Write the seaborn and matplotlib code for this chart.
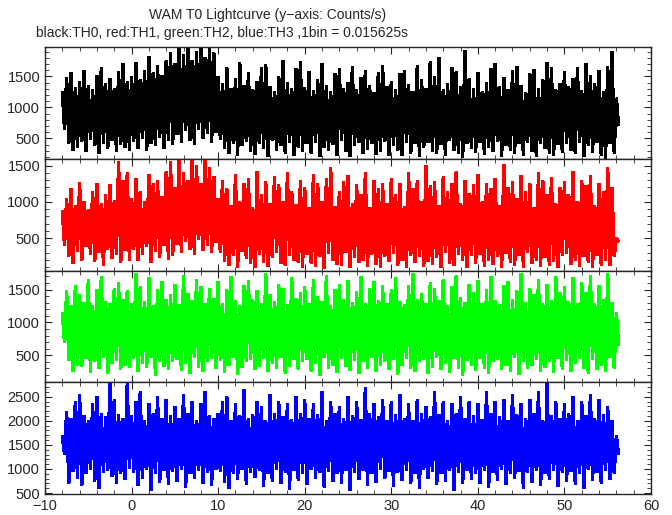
import numpy as np
import pandas as pd
import matplotlib
matplotlib.use("Agg")
import matplotlib.pyplot as plt
from matplotlib.ticker import MultipleLocator
import seaborn as sns

# time grid (s), 0.5 s steps from -8 to 56; per step one high and one low reading
TIME = [-8 + 0.5 * i for i in range(129)]

TH0_HI = [1250, 1480, 1560, 1320, 1410, 1600, 1350, 1280, 1520, 1640, 1380, 1460, 1300, 1580, 1700, 1420,
          1500, 1720, 1450, 1600, 1820, 1560, 1680, 1520, 1760, 1880,
          1700, 1960, 1850, 1975, 1760, 1900, 1975, 1800, 1975, 1880,
          1500, 1380, 1650, 1300, 1460, 1720, 1350, 1560, 1290, 1420, 1640, 1690, 1330, 1250, 1500, 1760, 1400, 1300, 1620, 1740,
          1320, 1580, 1270, 1450, 1700, 1360, 1250, 1540, 1620, 1310, 1400, 1660, 1280, 1480, 1600, 1350, 1240, 1570, 1680, 1330,
          1420, 1290, 1540, 1600, 1370, 1260, 1680, 1450, 1310, 1740, 1500, 1800, 1280, 1390, 1640, 1580, 1330, 1920, 1460, 1300,
          1560, 1250, 1400, 1620, 1700, 1340, 1480, 1280, 1590, 1660, 1360, 1240, 1540, 1610, 1300, 1450, 1720, 1640, 1290, 1380,
          1580, 1330, 1460, 1640, 1270, 1700, 1520, 1380, 1600, 1260, 1660, 1900, 1150]
TH0_LO = [650, 420, 300, 360, 450, 280, 480, 380, 260, 420, 330, 470, 290, 400, 350, 310,
          450, 340, 500, 300, 420, 380, 520, 330, 470, 400,
          560, 440, 620, 470, 400, 650, 500, 580, 430, 600,
          480, 340, 260, 420, 220, 390, 450, 280, 240, 410, 330, 200, 460, 300, 380, 250, 440, 220, 350, 290,
          410, 260, 440, 210, 350, 300, 400, 230, 460, 280, 200, 380, 430, 250, 320, 410, 240, 290, 450, 220,
          380, 300, 230, 440, 260, 410, 200, 350, 430, 280, 250, 400, 220, 460, 310, 260, 190, 420, 340, 270,
          430, 240, 360, 280, 450, 210, 390, 300, 250, 420, 230, 440, 290, 200, 410, 330, 250, 220, 400, 270,
          420, 300, 250, 440, 200, 380, 270, 430, 230, 180, 410, 260, 700]

TH1_HI = [880, 1050, 1180, 950, 1270, 1000, 900, 1150, 1260, 980, 1100, 1240, 1020, 1560, 1300, 1400,
          1050, 1320, 1150, 1000, 1380, 1250, 1300, 1080, 1420, 1560,
          1200, 1595, 1400, 1300, 1595, 1500, 1250, 1595, 1480, 1350,
          1050, 1300, 1180, 950, 1380, 1000, 1250, 1320, 920, 1420, 1100, 1280, 980, 1350, 1240, 1000, 1400, 1150, 960, 1300,
          1200, 920, 1380, 1260, 1000, 1320, 1480, 940, 1150, 1280, 1360, 980, 1240, 1100, 1400, 920, 1300, 1180, 1250, 980,
          1320, 1100, 1260, 940, 1400, 1180, 1300, 1000, 1500, 1220, 1280, 950, 1350, 1150, 1260, 1420, 980, 1300, 1120, 1240,
          1380, 1000, 1260, 1180, 1320, 950, 1520, 1200, 1280, 1050, 1360, 1150, 1250, 920, 1400, 1300, 1100, 1340, 980, 1200,
          1280, 1100, 1420, 1000, 1300, 1220, 1360, 950, 1250, 1150, 1480, 1200, 500]
TH1_LO = [400, 250, 150, 320, 200, 380, 280, 180, 300, 130, 350, 220, 280, 160, 330, 190,
          340, 200, 280, 380, 170, 320, 240, 400, 210, 260,
          420, 300, 460, 350, 280, 480, 330, 400, 300, 440,
          300, 180, 120, 260, 100, 320, 220, 150, 90, 280, 170, 110, 240, 300, 150, 120, 260, 200, 160, 100,
          270, 150, 110, 250, 80, 290, 200, 140, 120, 310, 100, 240, 160, 200, 110, 280, 140, 90, 250, 180,
          290, 130, 200, 100, 260, 160, 250, 110, 180, 140, 240, 95, 300, 150, 120, 270, 200, 100, 260, 150,
          280, 110, 200, 140, 250, 90, 290, 160, 120, 260, 100, 300, 150, 200, 110, 240, 130, 180, 100, 260,
          290, 140, 200, 110, 250, 160, 100, 260, 130, 200, 120, 250, 450]

TH2_HI = [1150, 1480, 1250, 1560, 1420, 1300, 1650, 1260, 1500, 1700, 1320, 1280, 1520, 1600, 1350, 1480,
          1280, 1750, 1540, 1320, 1680, 1260, 1500, 1620, 1350, 1420,
          1580, 1270, 1720, 1440, 1340, 1650, 1540, 1290, 1520, 1360,
          1620, 1280, 1500, 1700, 1330, 1260, 1560, 1640, 1350, 1480, 1290, 1750, 1420, 1320, 1580, 1520, 1270, 1680, 1360, 1460,
          1540, 1280, 1660, 1400, 1320, 1720, 1260, 1500, 1580, 1350, 1640, 1300, 1470, 1700, 1290, 1520, 1620, 1330, 1560, 1280,
          1500, 1680, 1320, 1270, 1560, 1740, 1350, 1440, 1290, 1600, 1520, 1330, 1660, 1260, 1540, 1720, 1380, 1300, 1580, 1450,
          1640, 1290, 1500, 1700, 1330, 1270, 1560, 1620, 1350, 1480, 1750, 1300, 1520, 1420, 1660, 1280, 1580, 1340, 1700, 1460,
          1540, 1320, 1680, 1290, 1600, 1450, 1720, 1280, 1560, 1350, 1750, 1300, 1150]
TH2_LO = [700, 420, 260, 350, 330, 450, 240, 400, 300, 460, 220, 380, 420, 280, 350, 320,
          450, 250, 380, 310, 460, 200, 410, 330, 290, 400,
          440, 270, 380, 230, 460, 320, 260, 400, 450, 300,
          420, 240, 350, 460, 210, 310, 400, 440, 290, 330, 450, 250, 380, 300, 460, 220, 330, 430, 280, 400,
          440, 260, 380, 200, 460, 300, 340, 240, 450, 330, 270, 420, 220, 400, 300, 460, 250, 350, 410, 290,
          430, 210, 350, 450, 300, 260, 400, 440, 230, 320, 460, 280, 380, 240, 450, 300, 200, 420, 340, 270,
          450, 300, 230, 410, 440, 280, 350, 250, 460, 210, 400, 300, 340, 440, 260, 320, 410, 240, 450, 280,
          420, 260, 380, 450, 300, 220, 440, 280, 350, 250, 460, 300, 650]

TH3_HI = [1700, 2200, 2050, 2400, 2550, 2100, 2000, 2350, 2500, 2150, 2080, 2800, 2450, 2120, 2050, 2800,
          2100, 2400, 2600, 2000, 2350, 2150, 2500, 2050, 2450, 2100,
          2300, 2050, 2550, 2150, 2400, 2000, 2350, 2600, 2100, 2050,
          2150, 2400, 2500, 2000, 2350, 2100, 2650, 2050, 2120, 2400, 2300, 2000, 2550, 2150, 2400, 2080, 2350, 2020, 2500, 2150,
          2450, 2050, 2350, 2120, 2600, 2000, 2400, 2150, 2300, 2050, 2500, 2100, 2400, 2020, 2700, 2150, 2350, 2080, 2450, 2000,
          2400, 2120, 2550, 2050, 2350, 2000, 2450, 2150, 2300, 2080, 2600, 2120, 2400, 2000, 2350, 2150, 2500, 2050, 2400, 2100,
          2350, 2020, 2600, 2150, 2400, 2080, 2450, 2000, 2550, 2120, 2350, 2050, 2450, 2150, 2600, 2000, 2800, 2100, 2400, 2050,
          2350, 2150, 2500, 2000, 2400, 2100, 2550, 2050, 2450, 2120, 2300, 2000, 1700]
TH3_LO = [1300, 700, 950, 800, 650, 900, 980, 750, 600, 920, 960, 850, 700, 900, 780, 1000,
          920, 650, 800, 980, 560, 900, 720, 960, 680, 940,
          750, 980, 620, 900, 800, 960, 700, 920, 660, 990,
          940, 720, 600, 900, 780, 980, 680, 920, 820, 960, 640, 900, 750, 990, 700, 930, 580, 960, 760, 910,
          680, 980, 800, 920, 620, 950, 740, 900, 700, 970, 560, 930, 780, 960, 660, 900, 720, 990, 800, 940,
          640, 920, 760, 960, 700, 900, 600, 980, 800, 940, 680, 910, 740, 970, 560, 930, 700, 960, 780, 900,
          700, 960, 620, 920, 760, 980, 680, 900, 800, 950, 600, 930, 720, 970, 660, 910, 780, 960, 640, 920,
          740, 950, 680, 900, 600, 980, 760, 930, 700, 960, 780, 910, 1300]

CHANNELS = ["TH0", "TH1", "TH2", "TH3"]
COLORS = ["black", "#ff0000", "#00ff00", "#0000ff"]
YLIMS = [(170, 1975), (55, 1595), (90, 1790), (480, 2800)]
YTICKS = [[500, 1000, 1500], [500, 1000, 1500], [500, 1000, 1500], [500, 1000, 1500, 2000, 2500]]

sns.set_style("ticks")
plt.rcParams["font.family"] = ["Liberation Sans", "DejaVu Sans"]
plt.rcParams.update({"font.size": 10, "axes.linewidth": 1.0})

# each 0.5 s reading gives a high bin, the bin 0.25 s later the low one
HI = {"TH0": TH0_HI, "TH1": TH1_HI, "TH2": TH2_HI, "TH3": TH3_HI}
LO = {"TH0": TH0_LO, "TH1": TH1_LO, "TH2": TH2_LO, "TH3": TH3_LO}
frames = []
for ch in CHANNELS:
    t = np.array(TIME)
    x = np.column_stack([t, t + 0.25]).ravel()
    y = np.column_stack([HI[ch], LO[ch]]).ravel()
    frames.append(pd.DataFrame({"time": x, "rate": y, "channel": ch}))
df = pd.concat(frames, ignore_index=True)

fig = plt.figure(figsize=(6.72, 5.15), dpi=100)
gs = fig.add_gridspec(4, 1, left=45 / 672, right=651 / 672, top=1 - 47 / 515, bottom=1 - 494 / 515, hspace=0)

for i, ch in enumerate(CHANNELS):
    ax = fig.add_subplot(gs[i])
    sub = df[df["channel"] == ch]
    sns.lineplot(data=sub, x="time", y="rate", color=COLORS[i], lw=1.7, sort=False, estimator=None,
                 ax=ax, antialiased=False, solid_capstyle="butt", solid_joinstyle="bevel")
    ax.set_xlim(-10, 60)
    ax.set_ylim(*YLIMS[i])
    ax.set_yticks(YTICKS[i])
    ax.xaxis.set_major_locator(MultipleLocator(10))
    ax.xaxis.set_minor_locator(MultipleLocator(2))
    ax.yaxis.set_minor_locator(MultipleLocator(100))
    ax.tick_params(which="both", direction="in", top=True, right=True, labelsize=10.5)
    ax.tick_params(which="major", length=5)
    ax.tick_params(which="minor", length=3)
    ax.set_xlabel("")
    ax.set_ylabel("")
    if i < 3:
        ax.tick_params(labelbottom=False)

fig.text(268 / 672, 1 - 15 / 515, "WAM T0 Lightcurve (y\u2212axis: Counts/s)", ha="center", va="center", fontsize=10)
fig.text(36 / 672, 1 - 33 / 515, "black:TH0, red:TH1, green:TH2, blue:TH3 ,1bin = 0.015625s",
         ha="left", va="center", fontsize=10)

fig.savefig("out.png", dpi=100)
